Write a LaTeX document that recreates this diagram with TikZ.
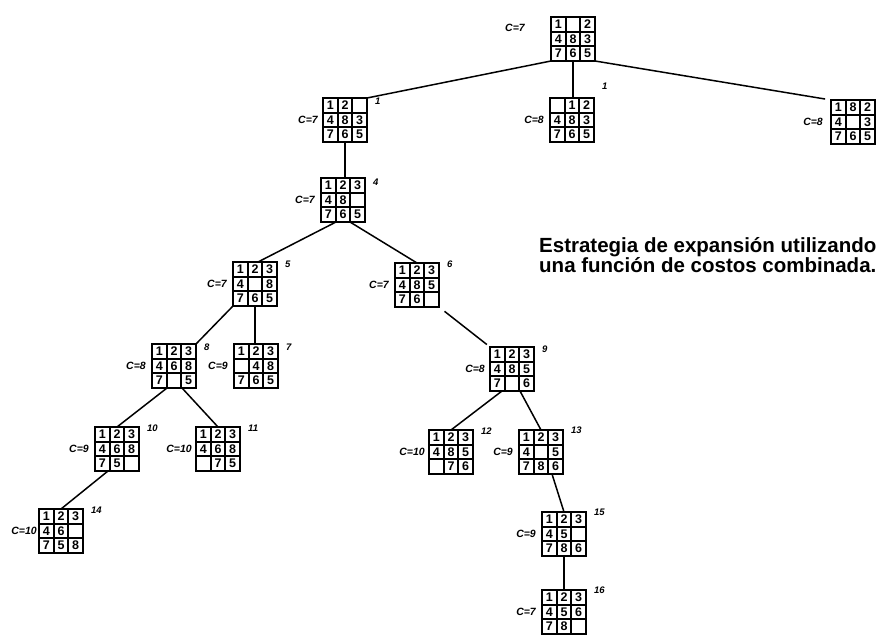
\documentclass[tikz,border=0pt]{standalone}
\usepackage{fontspec}
\setmainfont{Liberation Sans}
\usetikzlibrary{calc,positioning}
\tikzset{
 pzbox/.style={draw, line width=2.4pt, minimum width=44pt, minimum height=44pt, inner sep=0pt, outer sep=0pt},
 gridline/.style={line width=1.8pt},
 tile/.style={font=\fontsize{12.5}{12.5}\selectfont\bfseries, inner sep=0pt},
 clab/.style={font=\fontsize{10.5}{10.5}\selectfont\bfseries\itshape, inner sep=0pt},
 num/.style={font=\fontsize{9.5}{9.5}\selectfont\bfseries\itshape, inner sep=0pt, anchor=west},
 edge/.style={line width=1.5pt},
}
\newcommand\pz[3]{%
 \node[pzbox] (#1) at (#2) {};
 \foreach \gi in {1,2}{
   \draw[gridline] ($(#1.north west)!\gi/3!(#1.north east)$) -- ($(#1.south west)!\gi/3!(#1.south east)$);
   \draw[gridline] ($(#1.north west)!\gi/3!(#1.south west)$) -- ($(#1.north east)!\gi/3!(#1.south east)$);
 }
 \foreach \pv [count=\pk from 0] in {#3}{
   \pgfmathtruncatemacro\prow{\pk/3}
   \pgfmathtruncatemacro\pcol{mod(\pk,3)}
   \ifnum\pv>0 \node[tile] at ($(#1.north west)+({(\pcol+0.5)*44/3},{(\prow+0.5)*44/3})$) {\pv};\fi
 }
}
\begin{document}
\begin{tikzpicture}[x=1pt,y=-1pt]
\useasboundingbox (0,0) rectangle (881,636);
% puzzles
\pz{root}{573,39}{1,0,2,4,8,3,7,6,5}
\pz{n1}{345,120}{1,2,0,4,8,3,7,6,5}
\pz{mid}{572,120}{0,1,2,4,8,3,7,6,5}
\pz{rgt}{853,122}{1,8,2,4,0,3,7,6,5}
\pz{n4}{343,200}{1,2,3,4,8,0,7,6,5}
\pz{n5}{255,284}{1,2,3,4,0,8,7,6,5}
\pz{n6}{417,285}{1,2,3,4,8,5,7,6,0}
\pz{n8}{174,366}{1,2,3,4,6,8,7,0,5}
\pz{n7}{256,366}{1,2,3,0,4,8,7,6,5}
\pz{n9}{512,369}{1,2,3,4,8,5,7,0,6}
\pz{n10}{117,449}{1,2,3,4,6,8,7,5,0}
\pz{n11}{218,449}{1,2,3,4,6,8,0,7,5}
\pz{n12}{451,452}{1,2,3,4,8,5,0,7,6}
\pz{n13}{541,452}{1,2,3,4,0,5,7,8,6}
\pz{n14}{61,531}{1,2,3,4,6,0,7,5,8}
\pz{n15}{564,534}{1,2,3,4,5,0,7,8,6}
\pz{n16}{564,612}{1,2,3,4,5,6,7,8,0}
% cost labels
\node[clab] (lroot) at (515,28) {C=7};
\node[clab, left=5pt of n1] (l1) {C=7};
\node[clab, left=6pt of mid] (lmid) {C=8};
\node[clab, left=8pt of rgt] (lrgt) {C=8};
\node[clab, left=6pt of n4] (l4) {C=7};
\node[clab, left=6pt of n5] (l5) {C=7};
\node[clab, left=6pt of n6] (l6) {C=7};
\node[clab, left=6pt of n7] (l7) {C=9};
\node[clab, left=6pt of n8] (l8) {C=8};
\node[clab, left=5pt of n9] (l9) {C=8};
\node[clab, left=6pt of n10] (l10) {C=9};
\node[clab, left=4pt of n11] (l11) {C=10};
\node[clab, left=4pt of n12] (l12) {C=10};
\node[clab, left=6pt of n13] (l13) {C=9};
\node[clab, left=2pt of n14] (l14) {C=10};
\node[clab, left=6pt of n15] (l15) {C=9};
\node[clab, left=6pt of n16] (l16) {C=7};
% order numbers
\node[num] (k1) at ($(n1.north east)+(8,3)$) {1};
\node[num] (kmid) at ($(mid.north east)+(8,-12)$) {1};
\node[num] (k4) at ($(n4.north east)+(8,4)$) {4};
\node[num] (k5) at ($(n5.north east)+(8,2)$) {5};
\node[num] (k6) at ($(n6.north east)+(8,1)$) {6};
\node[num] (k7) at ($(n7.north east)+(8,3)$) {7};
\node[num] (k8) at ($(n8.north east)+(8,3)$) {8};
\node[num] (k9) at ($(n9.north east)+(8,2)$) {9};
\node[num] (k10) at ($(n10.north east)+(8,1)$) {10};
\node[num] (k11) at ($(n11.north east)+(8,1)$) {11};
\node[num] (k12) at ($(n12.north east)+(8,1)$) {12};
\node[num] (k13) at ($(n13.north east)+(8,0)$) {13};
\node[num] (k14) at ($(n14.north east)+(8,1)$) {14};
\node[num] (k15) at ($(n15.north east)+(8,0)$) {15};
\node[num] (k16) at ($(n16.north east)+(8,0)$) {16};
% edges
\draw[edge] (root.south west) -- (n1.north east);
\draw[edge] (root.south) -- (root.south |- mid.north);
\draw[edge, shorten >=6pt] (root.south east) -- (rgt.north west);
\draw[edge] (n1.south) -- (n1.south |- n4.north);
\draw[edge] ($(n4.south)+(-7,0)$) -- ($(n5.north)+(3,0)$);
\draw[edge] ($(n4.south)+(7,0)$) -- (n6.north);
\draw[edge] (n5.south west) -- (n8.north east);
\draw[edge] (n5.south) -- (n5.south |- n7.north);
\draw[edge, shorten <=7pt, shorten >=4pt] (n6.south east) -- (n9.north west);
\draw[edge] ($(n8.south)+(-7,0)$) -- (n10.north);
\draw[edge] ($(n8.south)+(8,0)$) -- (n11.north);
\draw[edge] ($(n9.south)+(-10,0)$) -- (n12.north);
\draw[edge] ($(n9.south)+(8,0)$) -- (n13.north);
\draw[edge] ($(n10.south)+(-9,0)$) -- (n14.north);
\draw[edge] ($(n13.south)+(11,0)$) -- (n15.north);
\draw[edge] (n15.south) -- (n16.north);
% caption
\node[anchor=west, align=left, inner sep=0pt, font=\fontsize{20.5}{20}\selectfont\bfseries] (cap) at (539,255) {Estrategia de expansión utilizando\\una función de costos combinada.};
\end{tikzpicture}
\end{document}
